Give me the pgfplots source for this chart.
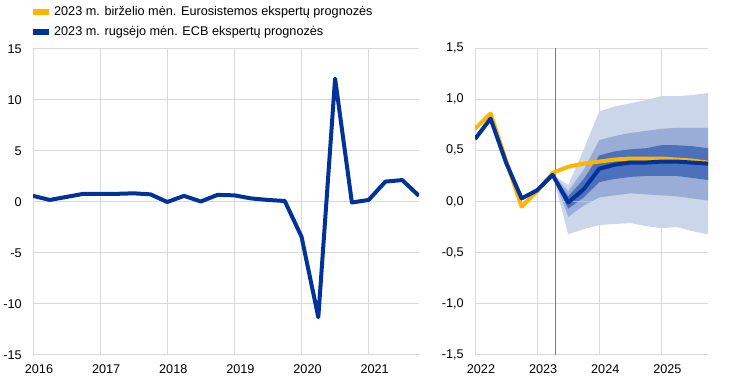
\documentclass[border=0pt]{standalone}
\usepackage{fontspec}
\setmainfont{Liberation Sans}
\usepackage{pgfplots}
\pgfplotsset{compat=1.18}
\definecolor{ecbblue}{HTML}{003299}
\definecolor{ecbyellow}{HTML}{FFB400}
\definecolor{bandA}{HTML}{CCD6EB}
\definecolor{bandB}{HTML}{99ADD6}
\definecolor{bandC}{HTML}{4D70BA}
\definecolor{gridgray}{HTML}{D9D9D9}
\definecolor{vline}{HTML}{7A7A7A}
\pgfplotsset{common/.style={
  scale only axis,
  axis line style={draw=none},
  major tick length=0pt,
  grid=major,
  major grid style={gridgray, line width=0.75pt},
  tick label style={font=\fontsize{9.5}{11}\selectfont, text=black},
  /pgf/number format/assume math mode=true,
  xticklabel style={xshift=4.5pt, yshift=-3.5pt},
  yticklabel style={xshift=-5pt},
}}
\begin{document}
\begin{tikzpicture}
% left panel
\begin{axis}[common,
  at={(24.75pt,20.25pt)}, anchor=south west,
  width=289.5pt, height=229.5pt,
  xmin=2016, xmax=2021.75, ymin=-15, ymax=15,
  xtick={2016,2017,2018,2019,2020,2021},
  xticklabels={2016,2017,2018,2019,2020,2021},
  ytick={-15,-10,-5,0,5,10,15},
  legend style={at={(0,1)}, anchor=south west, xshift=0pt, yshift=7pt,
    draw=none, fill=none, inner sep=0pt, row sep=3.5pt,
    font=\fontsize{9.5}{11}\selectfont, legend cell align=left,
    nodes={inner sep=1.5pt},
    /tikz/every odd column/.append style={column sep=2.5pt}},
  legend image code/.code={\fill (0pt,-1.9pt) rectangle (11.25pt,1.9pt);},
]
\addlegendimage{ecbyellow, fill=ecbyellow}
\addlegendentry{2023 m. birželio mėn. Eurosistemos ekspertų prognozės}
\addlegendimage{ecbblue, fill=ecbblue}
\addlegendentry{2023 m. rugsėjo mėn. ECB ekspertų prognozės}
\addplot[ecbblue, line width=3pt, line join=round, forget plot] coordinates {
(2016.00,0.6)(2016.25,0.2)(2016.50,0.5)(2016.75,0.8)
(2017.00,0.8)(2017.25,0.8)(2017.50,0.85)(2017.75,0.75)
(2018.00,0.0)(2018.25,0.6)(2018.50,0.05)(2018.75,0.7)
(2019.00,0.65)(2019.25,0.35)(2019.50,0.2)(2019.75,0.1)
(2020.00,-3.4)(2020.25,-11.3)(2020.50,12.1)(2020.75,-0.05)
(2021.00,0.2)(2021.25,2.0)(2021.50,2.15)(2021.75,0.6)};
\end{axis}
% right panel
\begin{axis}[common,
  at={(356.25pt,20.25pt)}, anchor=south west,
  width=174.75pt, height=230.25pt,
  xmin=2022, xmax=2025.75, ymin=-1.5, ymax=1.5,
  xtick={2022,2023,2024,2025},
  xticklabels={2022,2023,2024,2025},
  ytick={-1.5,-1.0,-0.5,0,0.5,1.0,1.5},
  yticklabel style={/pgf/number format/.cd, fixed, fixed zerofill, precision=1, use comma},
]
\addplot[fill=bandA, draw=none] coordinates {
(2023.25,0.26)(2023.5,0.16)(2023.75,0.51)(2024.0,0.88)(2024.25,0.93)(2024.5,0.96)
(2024.75,0.99)(2025.0,1.03)(2025.25,1.03)(2025.5,1.04)(2025.75,1.06)
(2025.75,-0.32)(2025.5,-0.29)(2025.25,-0.25)(2025.0,-0.26)(2024.75,-0.24)
(2024.5,-0.21)(2024.25,-0.22)(2024.0,-0.23)(2023.75,-0.27)(2023.5,-0.32)} -- cycle;
\addplot[fill=bandB, draw=none] coordinates {
(2023.25,0.26)(2023.5,0.10)(2023.75,0.31)(2024.0,0.60)(2024.25,0.64)(2024.5,0.67)
(2024.75,0.69)(2025.0,0.71)(2025.25,0.72)(2025.5,0.72)(2025.75,0.72)
(2025.75,0.01)(2025.5,0.03)(2025.25,0.05)(2025.0,0.06)(2024.75,0.07)
(2024.5,0.08)(2024.25,0.06)(2024.0,0.04)(2023.75,-0.04)(2023.5,-0.15)} -- cycle;
\addplot[fill=bandC, draw=none] coordinates {
(2023.25,0.26)(2023.5,0.05)(2023.75,0.22)(2024.0,0.45)(2024.25,0.49)(2024.5,0.51)
(2024.75,0.52)(2025.0,0.55)(2025.25,0.55)(2025.5,0.54)(2025.75,0.52)
(2025.75,0.21)(2025.5,0.23)(2025.25,0.25)(2025.0,0.25)(2024.75,0.25)
(2024.5,0.24)(2024.25,0.22)(2024.0,0.19)(2023.75,0.04)(2023.5,-0.07)} -- cycle;
\addplot[gridgray, opacity=0.6, line width=0.75pt] coordinates {(2022,0)(2025.75,0)};
\addplot[vline, line width=1pt] coordinates {(2023.3,-1.5)(2023.3,1.5)};
\addplot[ecbyellow, line width=3pt, line join=round] coordinates {
(2022.0,0.71)(2022.25,0.86)(2022.5,0.40)(2022.75,-0.05)(2023.0,0.10)(2023.25,0.28)
(2023.5,0.34)(2023.75,0.37)(2024.0,0.39)(2024.25,0.41)(2024.5,0.42)(2024.75,0.42)
(2025.0,0.42)(2025.25,0.41)(2025.5,0.40)(2025.75,0.38)};
\addplot[ecbblue, line width=3pt, line join=round] coordinates {
(2022.0,0.61)(2022.25,0.81)(2022.5,0.38)(2022.75,0.03)(2023.0,0.11)(2023.25,0.26)
(2023.5,-0.01)(2023.75,0.12)(2024.0,0.32)(2024.25,0.36)(2024.5,0.38)(2024.75,0.38)
(2025.0,0.39)(2025.25,0.39)(2025.5,0.38)(2025.75,0.37)};
\end{axis}
\pgfresetboundingbox
\path[use as bounding box] (0,0) rectangle (558pt,286.5pt);
\end{tikzpicture}
\end{document}
